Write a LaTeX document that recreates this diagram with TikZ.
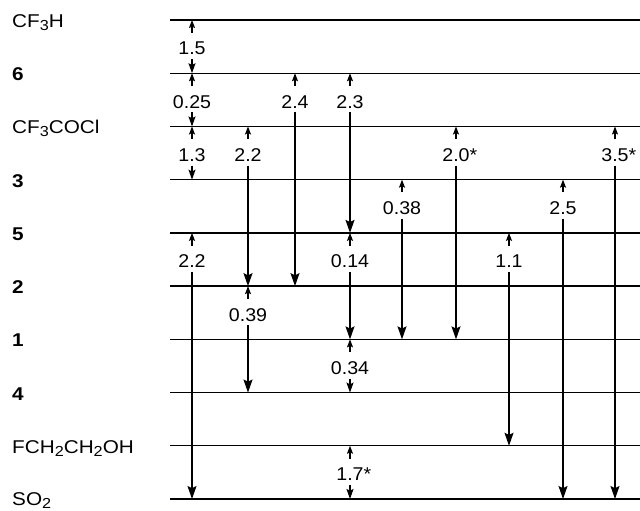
\documentclass[tikz,border=0pt]{standalone}
\usepackage{fontspec}
\setmainfont{Liberation Sans}
\newfontfamily\labfont{Liberation Sans}[FakeStretch=1.12]
\newfontfamily\valfont{Liberation Sans}[FakeStretch=1.06]
\usetikzlibrary{arrows.meta}
\newcommand{\sbs}[1]{\raisebox{-3pt}{\fontsize{14.5}{15}\selectfont #1}}
\begin{document}
\begin{tikzpicture}[x=1pt,y=-1pt,
  lvl/.style={line width=1.4pt},
  lab/.style={font=\labfont\fontsize{18.5}{19}\selectfont, anchor=base west, inner sep=0pt},
  val/.style={font=\valfont\fontsize{18.5}{19}\selectfont, inner xsep=0pt, inner ysep=0pt, text height=22pt, text depth=4pt, anchor=base},
  uptip/.style={line width=1.3pt, -{Stealth[length=8pt,width=6pt,inset=1.5pt]}},
  dntip/.style={line width=1.3pt, -{Stealth[length=13pt,width=9pt,inset=2.2pt]}},
  dnsm/.style={line width=1.3pt, -{Stealth[length=10pt,width=7pt,inset=1.8pt]}},
]
\useasboundingbox (0,0) rectangle (640,511);
\foreach \i in {0,...,9}{
  \coordinate (L\i) at (170,{20+53.222*\i});
  \coordinate (R\i) at (640,{20+53.222*\i});
  \draw[lvl] (L\i) -- (R\i);
}
\node[lab] (n0) at (12,27.5) {CF\sbs{3}H};
\node[lab] (n1) at (12,80.7) {\textbf{6}};
\node[lab] (n2) at (12,133.9) {CF\sbs{3}COCl};
\node[lab] (n3) at (12,187.2) {\textbf{3}};
\node[lab] (n4) at (12,240.4) {\textbf{5}};
\node[lab] (n5) at (12,293.6) {\textbf{2}};
\node[lab] (n6) at (12,346.8) {\textbf{1}};
\node[lab] (n7) at (12,400.1) {\textbf{4}};
\node[lab] (n8) at (12,453.3) {FCH\sbs{2}CH\sbs{2}OH};
\node[lab] (n9) at (12,505.5) {SO\sbs{2}};
\foreach \nm/\vx/\ta/\tb/\txt/\tp in {
  a/192/0/1/1.5/dnsm, b/192/1/2/0.25/dnsm, c/192/2/3/1.3/dnsm, d/192/4/9/2.2/dntip,
  e/248/2/5/2.2/dntip, f/248/5/7/0.39/dntip,
  g/295/1/5/2.4/dntip,
  h/350/1/4/2.3/dntip, i/350/4/6/0.14/dntip, j/350/6/7/0.34/dnsm, k/350/8/9/{1.7\rlap{*}}/dnsm,
  l/402/3/6/0.38/dntip, m/456/2/6/{2.0\rlap{*}}/dntip, n/509/4/8/1.1/dntip,
  o/563/3/9/2.5/dntip, p/615/2/9/{3.5\rlap{*}}/dntip}
{
  \node[val] (v\nm) at (\vx,{20+53.222*\ta+35}) {\txt};
  \draw[uptip] (v\nm.north) -- (v\nm.north |- L\ta);
  \draw[\tp] (v\nm.south) -- (v\nm.south |- L\tb);
}
\end{tikzpicture}
\end{document}
